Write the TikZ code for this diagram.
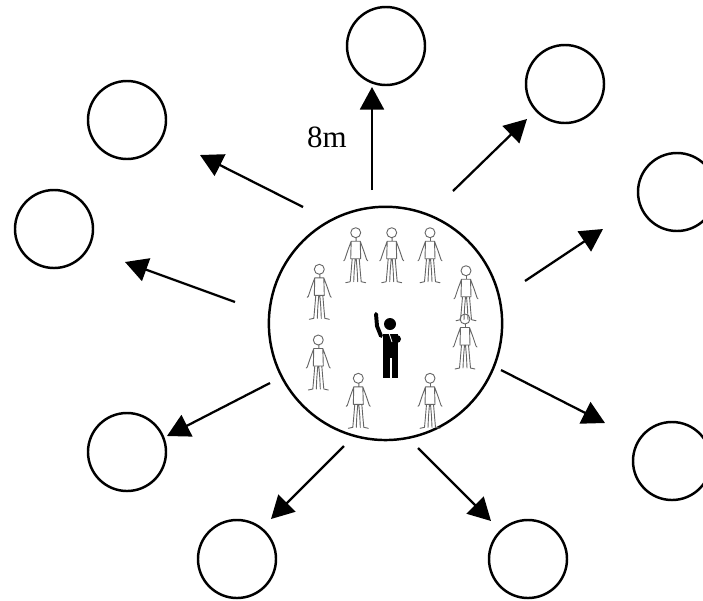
\documentclass[tikz,border=0pt]{standalone}
\usepackage{fontspec}
\setmainfont{Liberation Serif}
\usetikzlibrary{arrows.meta}

\begin{document}
\begin{tikzpicture}[x=0.025cm,y=-0.025cm]
	\tikzset{spot/.style={circle,draw,line width=1.75pt,minimum size=1.95cm,inner sep=0pt}}
	\tikzset{ray/.style={-{Triangle[length=16pt,width=17pt]},line width=1.6pt}}
	\tikzset{walker/.pic={
		\draw[black!60,line width=.65pt,line join=round,line cap=round]
			(0,0) circle (5) (0.5,5) -- (0.5,8)
			(-4.5,8.5) -- (4.5,8.5) -- (5,26) -- (-5,26) -- cycle
			(-4.5,8.5) -- (-8,18) -- (-11,27) -- (-12,28)
			(4.5,8.5) -- (8,18) -- (11,27) -- (12,28)
			(-3.5,26) -- (-4.5,38) -- (-5.5,49) -- (-10,50)
			(-0.5,26) -- (-1.5,38) -- (-2,49)
			(3.5,26) -- (4.5,38) -- (5.5,49) -- (10,50)
			(0.5,26) -- (1.5,38) -- (2,49);
	}}
	\clip (0,0) rectangle (703,600);

	% centre and the groups around it
	\node[spot,minimum size=5.83cm] (hub) at (385.5,323.4) {};
	\node[spot] (g1) at (386,46) {};
	\node[spot] (g2) at (565,84) {};
	\node[spot] (g3) at (677,192) {};
	\node[spot] (g4) at (672,461) {};
	\node[spot] (g5) at (528,559) {};
	\node[spot] (g6) at (237,559) {};
	\node[spot] (g7) at (127,452) {};
	\node[spot] (g8) at (54,229) {};
	\node[spot] (g9) at (127,120) {};

	\foreach \i/\s/\t in {1/{372,190}/{372,87}, 2/{453,191}/{527,119}, 3/{525,281}/{603,229},
		4/{501,370}/{605,423}, 5/{418,448}/{491,521}, 6/{344,446}/{271,519},
		7/{270,383}/{167,436}, 8/{235,302}/{125,262}, 9/{303,207}/{200,155}}{
		\coordinate (s\i) at (\s);
		\coordinate (t\i) at (\t);
		\draw[ray] (s\i) -- (t\i);
	}
	\node (len) at (327,137) {\fontsize{22}{26}\selectfont 8m};

	% people in a ring
	\foreach \p in {{355.7,232.7},{391.7,232.7},{430,232.7},{319.3,269.3},{466,270.7},
		{465,319},{318.3,340},{358.3,378.3},{430,378.3}}
		\pic at (\p) {walker};

	% instructor
	\fill (390,324) circle (6);
	\draw[line width=2.8pt,line cap=round] (381,336) -- (377,326) -- (376,314);
	\fill (383,334) rectangle (398,358);
	\fill (383,357) rectangle (389.5,378);
	\fill (391.5,357) rectangle (398,378);
	\fill (397,339) circle (4);
	\draw[white,line width=.6pt] (388,330) -- (392,342);
\end{tikzpicture}
\end{document}
